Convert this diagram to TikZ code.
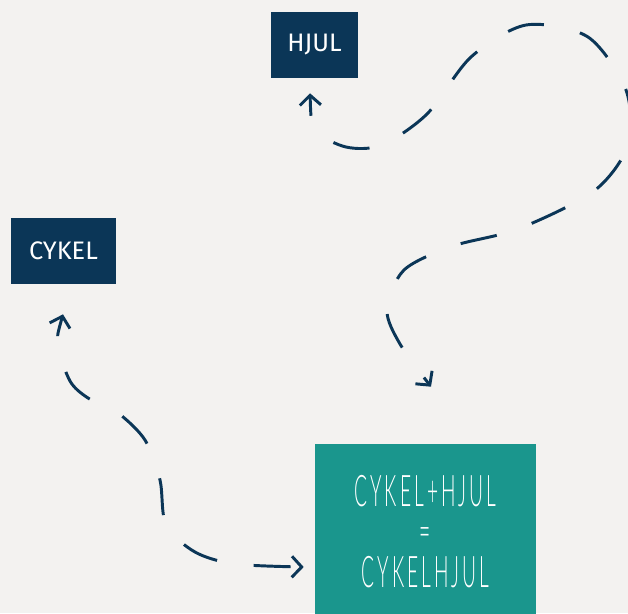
\documentclass[tikz,border=0pt]{standalone}
\usepackage{fontspec}
\setmainfont{Fira Sans}
\newfontfamily\chalkfont[FakeStretch=0.44,LetterSpace=7]{Lato Light}
\usetikzlibrary{positioning,arrows.meta}
\definecolor{bgcolor}{HTML}{F3F2F0}
\definecolor{navycolor}{HTML}{0B3657}
\definecolor{tealcolor}{HTML}{1A968D}

\begin{document}
\begin{tikzpicture}[
    x=0.025cm, y=-0.025cm,
    wnode/.style={rectangle, fill=navycolor, text=white, minimum height=1.65cm, font=\fontsize{18}{20}\selectfont},
    rnode/.style={rectangle, fill=tealcolor, text=white, align=center, minimum width=5.525cm, minimum height=4.375cm, font=\chalkfont\fontsize{31}{29}\selectfont},
    link/.style={{Straight Barb[length=7pt,width=15pt]}-{Straight Barb[length=7pt,width=15pt]}, navycolor, line width=2.1pt, dash pattern=on 0.925cm off 0.925cm, dash phase=0.45cm}
]
    % Background
    \fill[bgcolor] (0,0) rectangle (628,613);
    \useasboundingbox (0,0) rectangle (628,613);
    \clip (0,0) rectangle (628,613);

    % Word nodes
    \node[wnode, minimum width=2.175cm] (hjul) at (314.5,45) {HJUL};
    \node[wnode, minimum width=2.625cm] (cykel) at (63.5,251) {CYKEL};

    % Result node
    \node[rnode] (sum) at (425.5,531.5) {CYKEL+HJUL\\=\\CYKELHJUL};

    % Arrow ends
    \coordinate (hjulend) at ([shift={(-4.5,15)}]hjul.south);
    \coordinate (cykelend) at ([shift={(-0.5,30)}]cykel.south);
    \coordinate (sumtop) at ([shift={(5.5,-57)}]sum.north);
    \coordinate (sumleft) at ([shift={(-11,35.5)}]sum.west);

    % Links
    \draw[link] plot[smooth] coordinates {(hjulend) (316,130) (346,147) (382,145) (427,114) (471,57) (526,25) (588,37) (626,90) (628,145) (594,191) (518,229) (453,246) (404,270) (387,310) (400,344) (sumtop)};
    \draw[link] plot[smooth] coordinates {(cykelend) (58,345) (70,381) (88,398) (118,413) (145,440) (160,480) (166,525) (195,552) (235,564) (sumleft)};
\end{tikzpicture}
\end{document}
